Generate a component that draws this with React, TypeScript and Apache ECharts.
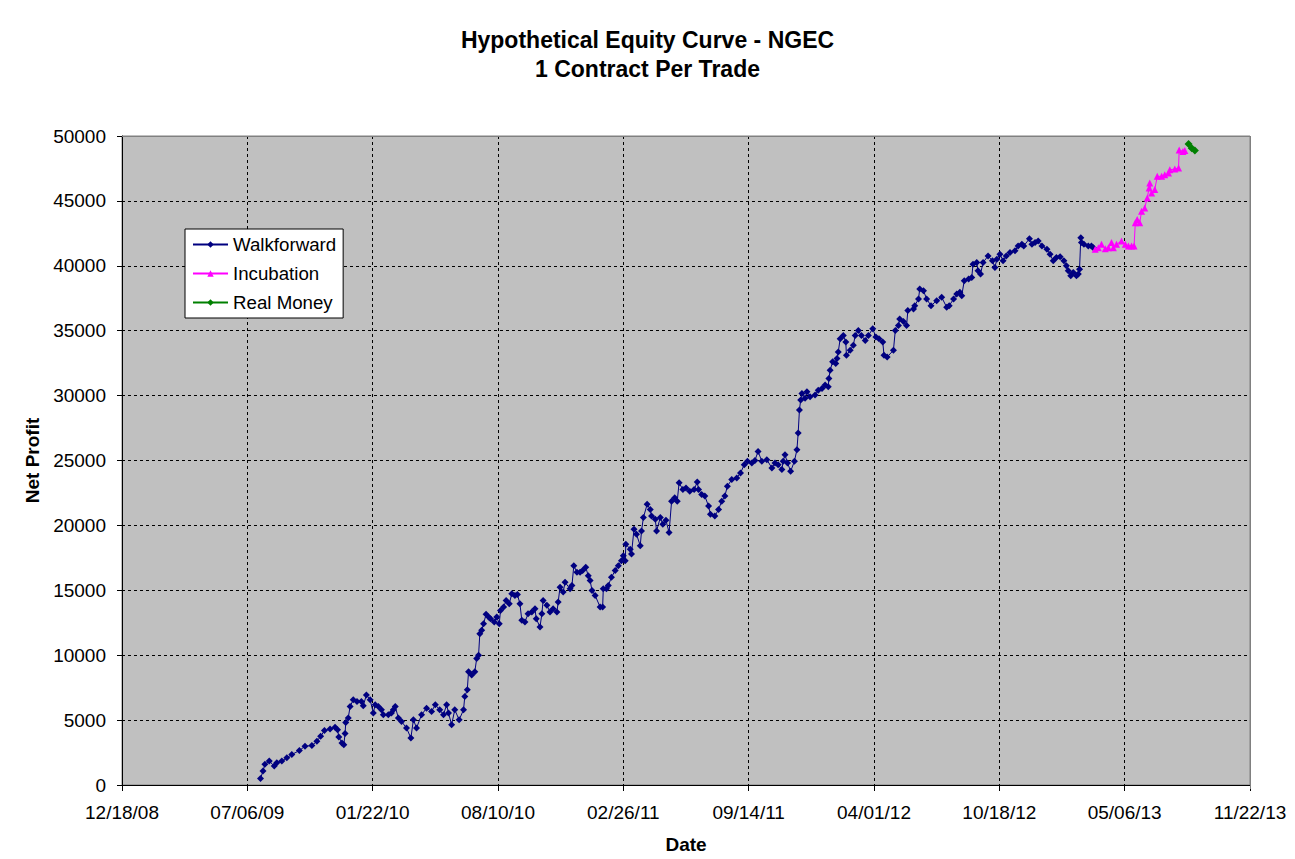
import { useEffect, useRef } from "react";
import * as echarts from "echarts";

// Dates are Excel date serial numbers (days since 1899-12-30)
const walkforwardDays = [
  40021, 40025, 40028, 40035, 40043, 40047, 40055, 40063, 40071, 40083,
  40092, 40103, 40111, 40117, 40123, 40132, 40140, 40144, 40146, 40151,
  40154, 40156, 40157, 40161, 40164, 40169, 40175, 40182, 40185, 40190,
  40196, 40201, 40204, 40209, 40214, 40217, 40225, 40230, 40233, 40236,
  40241, 40246, 40254, 40261, 40265, 40270, 40278, 40286, 40294, 40300,
  40307, 40313, 40318, 40321, 40326, 40331, 40338, 40345, 40347, 40351,
  40353, 40358, 40363, 40366, 40369, 40371, 40374, 40377, 40381, 40385,
  40388, 40394, 40398, 40402, 40404, 40409, 40413, 40418, 40422, 40427,
  40431, 40435, 40438, 40443, 40448, 40454, 40459, 40461, 40467, 40470,
  40472, 40478, 40483, 40488, 40494, 40496, 40499, 40504, 40507, 40515,
  40518, 40521, 40526, 40531, 40535, 40540, 40544, 40547, 40550, 40555,
  40563, 40567, 40568, 40573, 40576, 40581, 40587, 40592, 40597, 40600,
  40603, 40604, 40611, 40613, 40617, 40621, 40627, 40629, 40632, 40638,
  40643, 40645, 40651, 40653, 40659, 40663, 40668, 40673, 40677, 40682,
  40686, 40689, 40695, 40700, 40706, 40713, 40718, 40720, 40725, 40730,
  40736, 40739, 40746, 40752, 40757, 40762, 40766, 40773, 40781, 40787,
  40793, 40798, 40805, 40810, 40815, 40821, 40829, 40837, 40842, 40847,
  40853, 40855, 40858, 40862, 40867, 40873, 40877, 40879, 40881, 40883,
  40885, 40890, 40893, 40898, 40906, 40911, 40917, 40922, 40927, 40928,
  40930, 40934, 40939, 40941, 40943, 40946, 40951, 40955, 40956, 40962,
  40967, 40970, 40975, 40980, 40986, 40991, 40998, 41003, 41008, 41014,
  41016, 41021, 41031, 41034, 41039, 41041, 41047, 41052, 41054, 41063,
  41065, 41071, 41073, 41079, 41084, 41091, 41100, 41108, 41116, 41120,
  41127, 41132, 41137, 41140, 41144, 41151, 41156, 41158, 41164, 41166,
  41170, 41174, 41182, 41189, 41193, 41196, 41201, 41206, 41211, 41217,
  41225, 41230, 41236, 41239, 41248, 41252, 41257, 41262, 41268, 41276,
  41281, 41286, 41291, 41297, 41303, 41307, 41310, 41314, 41318, 41323,
  41326, 41328, 41330, 41331, 41335, 41342, 41347, 41350,
];
const walkforwardProfit = [
  510, 1070, 1590, 1840, 1460, 1710, 1840, 2090, 2350, 2650,
  2990, 3040, 3370, 3750, 4190, 4310, 4440, 4260, 3700, 3240,
  3110, 3960, 4820, 5160, 6050, 6560, 6430, 6430, 6100, 6940,
  6560, 5540, 6180, 6050, 5790, 5410, 5410, 5540, 5790, 6050,
  5160, 4900, 4390, 3620, 5030, 4390, 5410, 5920, 5670, 6180,
  5790, 5410, 6180, 5540, 4650, 5790, 5030, 5790, 6820, 7330,
  8730, 8470, 8730, 9750, 10000, 11660, 11920, 12430, 13150, 12940,
  12810, 12560, 12940, 12430, 13450, 13710, 14220, 13960, 14730, 14600,
  14680, 13960, 12690, 12560, 13190, 13320, 13580, 12810, 12170, 13190,
  14220, 13840, 13320, 13580, 13320, 14090, 15240, 14860, 15620, 15110,
  15370, 16900, 16390, 16390, 16520, 16770, 16130, 15750, 14990, 14600,
  13710, 13710, 15110, 15110, 15370, 16000, 16520, 16900, 17280, 17660,
  17280, 18550, 18170, 17790, 19700, 19320, 18430, 19570, 20600, 21620,
  21230, 20720, 20470, 19570, 20600, 20080, 20390, 19450, 21870, 22130,
  21870, 23280, 22760, 22890, 22640, 22760, 23350, 22760, 22380, 22260,
  21490, 20850, 20720, 21230, 21870, 22260, 23020, 23530, 23660, 24040,
  24680, 24940, 24810, 25000, 25700, 24940, 25060, 24430, 24810, 24680,
  24300, 24940, 25440, 24810, 24170, 24940, 25830, 27110, 28890, 29660,
  30170, 29790, 30300, 29920, 30040, 30420, 30550, 30810, 30680, 31320,
  31950, 32600, 32470, 32850, 33360, 34380, 34630, 34120, 33100, 33490,
  33870, 34630, 35020, 34630, 34250, 34630, 35150, 34510, 34380, 34120,
  33100, 32980, 33490, 35020, 35400, 35910, 35700, 35400, 36550, 36680,
  36930, 37440, 38210, 38080, 37440, 36930, 37310, 37570, 36810, 36930,
  37440, 37830, 37960, 37690, 38850, 38980, 39100, 40120, 40250, 39610,
  39360, 40250, 40760, 40380, 39870, 40510, 40890, 40380, 40760, 41020,
  41150, 41530, 41660, 41530, 42090, 41660, 41790, 41910, 41530, 41270,
  40890, 40380, 40630, 40700, 40380, 40000, 39610, 39230, 39490, 39230,
  39360, 39740, 42170, 41790, 41660, 41530, 41530, 41400,
];

const incubationDays = [
  41353, 41358, 41363, 41369, 41374, 41379, 41382, 41387, 41395, 41401,
  41406, 41411, 41415, 41417, 41420, 41424, 41427, 41432, 41436, 41439,
  41440, 41443, 41448, 41452, 41459, 41464, 41470, 41472, 41480, 41486,
  41487, 41493, 41496,
];
const incubationProfit = [
  41270, 41400, 41660, 41310, 41400, 41790, 41400, 41660, 41910, 41660,
  41530, 41530, 41530, 43320, 43570, 43320, 44200, 44460, 45230, 45990,
  46380, 45610, 45870, 46890, 46890, 47010, 47140, 47400, 47450, 47530,
  48930, 48800, 48880,
];

const realMoneyDays = [41502, 41507, 41512];
const realMoneyProfit = [49390, 49060, 48880];

const titleLines = ["Hypothetical Equity Curve - NGEC", "1 Contract Per Trade"];
const seriesNames = ["Walkforward", "Incubation", "Real Money"];

const X_MIN = 39800; // 12/18/08
const X_MAX = 41600; // 11/22/13
const X_STEP = 200;
const Y_MIN = 0;
const Y_MAX = 50000;
const Y_STEP = 5000;

const FONT = "'Liberation Sans', Arial, Helvetica, sans-serif";

function serialToLabel(v: number): string {
  const d = new Date(Date.UTC(1899, 11, 30) + Math.round(v) * 86400000);
  const mm = String(d.getUTCMonth() + 1).padStart(2, "0");
  const dd = String(d.getUTCDate()).padStart(2, "0");
  const yy = String(d.getUTCFullYear() % 100).padStart(2, "0");
  return `${mm}/${dd}/${yy}`;
}

function zip(xs: number[], ys: number[]) {
  return xs.map((x, i) => [x, ys[i]]);
}

export default function App() {
  const ref = useRef<HTMLDivElement>(null);

  useEffect(() => {
    if (!ref.current) return;
    const chart = echarts.init(ref.current, null, { renderer: "svg" });

    const G = { left: 122, top: 136, right: 45, bottom: 70 };
    const W = 1295;
    const H = 859;

    chart.setOption({
      animation: false,
      backgroundColor: "#ffffff",
      textStyle: { fontFamily: FONT, color: "#000" },
      title: {
        text: titleLines.join("\n"),
        left: "center",
        top: 25,
        padding: 0,
        textStyle: {
          fontFamily: FONT,
          fontSize: 23,
          fontWeight: "bold",
          color: "#000",
          lineHeight: 29,
        },
      },
      legend: {
        orient: "vertical",
        left: 185,
        top: 229,
        padding: [6, 7, 6, 7],
        itemGap: 10,
        itemWidth: 35,
        itemHeight: 8,
        backgroundColor: "#ffffff",
        borderColor: "#000000",
        borderWidth: 1,
        borderRadius: 0,
        data: seriesNames,
        textStyle: { fontFamily: FONT, fontSize: 18.7, color: "#000" },
      },
      grid: {
        left: G.left,
        top: G.top,
        right: G.right,
        bottom: G.bottom,
        show: true,
        backgroundColor: "#c0c0c0",
        borderColor: "#808080",
        borderWidth: 1,
        containLabel: false,
      },
      xAxis: {
        type: "value",
        min: X_MIN,
        max: X_MAX,
        interval: X_STEP,
        name: "Date",
        nameLocation: "middle",
        nameGap: 50,
        nameTextStyle: { fontFamily: FONT, fontSize: 19, fontWeight: "bold", color: "#000" },
        axisLine: { show: true, onZero: false, lineStyle: { color: "#000", width: 1 } },
        axisTick: { show: true, inside: false, length: 6, lineStyle: { color: "#000" } },
        axisLabel: {
          fontFamily: FONT,
          fontSize: 19,
          color: "#000",
          margin: 18,
          formatter: (v: number) => serialToLabel(v),
        },
        splitLine: { show: true, lineStyle: { color: "#000", type: [3, 3], width: 1 } },
      },
      yAxis: {
        type: "value",
        min: Y_MIN,
        max: Y_MAX,
        interval: Y_STEP,
        name: "Net Profit",
        nameLocation: "middle",
        nameGap: 80,
        nameTextStyle: { fontFamily: FONT, fontSize: 19, fontWeight: "bold", color: "#000" },
        axisLine: { show: true, lineStyle: { color: "#000", width: 1 } },
        axisTick: { show: true, inside: false, length: 5, lineStyle: { color: "#000" } },
        axisLabel: {
          fontFamily: FONT,
          fontSize: 19,
          color: "#000",
          margin: 16,
          formatter: (v: number) => String(v),
        },
        splitLine: { show: true, lineStyle: { color: "#000", type: [3, 3], width: 1 } },
      },
      graphic: [
        {
          type: "line",
          z: 100,
          shape: { x1: G.left, y1: G.top + 0.5, x2: W - G.right, y2: G.top + 0.5 },
          style: { stroke: "#808080", lineWidth: 1 },
        },
        {
          type: "line",
          z: 100,
          shape: { x1: W - G.right + 0.5, y1: G.top, x2: W - G.right + 0.5, y2: H - G.bottom },
          style: { stroke: "#808080", lineWidth: 1 },
        },
      ],
      series: [
        {
          name: seriesNames[0],
          type: "line",
          data: zip(walkforwardDays, walkforwardProfit),
          symbol: "diamond",
          symbolSize: 7,
          showAllSymbol: true,
          color: "#000080",
          lineStyle: { color: "#000080", width: 1 },
          itemStyle: { color: "#000080" },
        },
        {
          name: seriesNames[1],
          type: "line",
          data: zip(incubationDays, incubationProfit),
          symbol: "triangle",
          symbolSize: 7,
          showAllSymbol: true,
          color: "#ff00ff",
          lineStyle: { color: "#ff00ff", width: 1 },
          itemStyle: { color: "#ff00ff" },
        },
        {
          name: seriesNames[2],
          type: "line",
          data: zip(realMoneyDays, realMoneyProfit),
          symbol: "diamond",
          symbolSize: 8,
          showAllSymbol: true,
          color: "#008000",
          lineStyle: { color: "#008000", width: 1 },
          itemStyle: { color: "#008000" },
        },
      ],
    });

    return () => chart.dispose();
  }, []);

  return (
    <div
      ref={ref}
      style={{ position: "fixed", left: 0, top: 0, width: 1295, height: 859, background: "#fff" }}
    />
  );
}
